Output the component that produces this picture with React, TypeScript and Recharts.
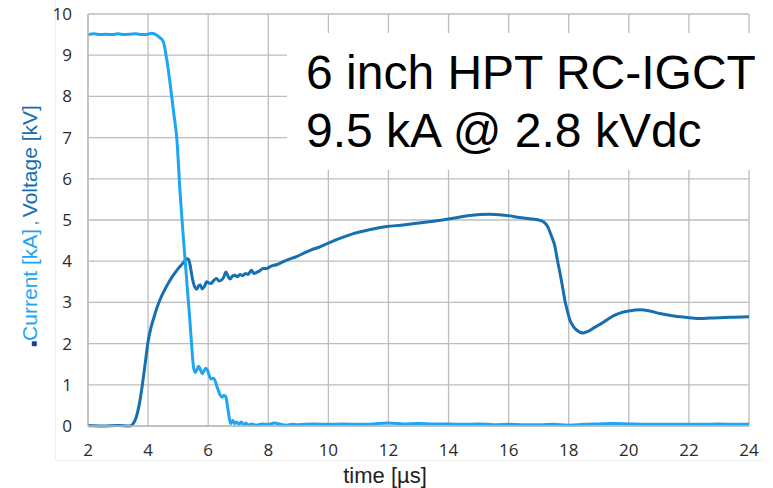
import { CartesianGrid, Line, LineChart, XAxis, YAxis } from 'recharts'

// current trace [kA]
const currentTime = [
  2.0, 2.2, 2.4, 2.6, 2.8, 3.0, 3.2, 3.4, 3.6, 3.8, 4.0, 4.1, 4.2, 4.3, 4.4, 4.5, 4.62, 4.73, 4.84, 4.96,
  5.06, 5.15, 5.23, 5.31, 5.39, 5.45, 5.51, 5.56, 5.62, 5.68, 5.74, 5.8, 5.86, 5.92, 5.98, 6.04, 6.1, 6.16,
  6.22, 6.28, 6.34, 6.4, 6.46, 6.52, 6.58, 6.64, 6.7, 6.75, 6.82, 6.88, 6.95, 7.02, 7.1, 7.18, 7.26, 7.34,
  7.45, 7.6, 7.8, 8.0, 8.2, 8.4, 8.6, 8.8, 9.0, 9.5, 10.0, 10.5, 11.0, 11.5, 12.0, 12.5, 13.0, 13.5, 14.0,
  14.5, 15.0, 15.5, 16.0, 16.5, 17.0, 17.5, 18.0, 18.5, 19.0, 19.5, 20.0, 20.5, 21.0, 21.5, 22.0, 22.5, 23.0,
  23.5, 24.0,
]
const currentKA = [
  9.5, 9.52, 9.5, 9.51, 9.5, 9.52, 9.5, 9.51, 9.52, 9.5, 9.51, 9.53, 9.52, 9.48, 9.42, 9.34, 8.9, 8.33, 7.67, 6.94,
  5.72, 4.8, 4.05, 3.3, 2.57, 1.95, 1.44, 1.3, 1.36, 1.45, 1.37, 1.27, 1.33, 1.4, 1.35, 1.21, 1.14, 1.16,
  1.12, 0.98, 0.86, 0.75, 0.7, 0.74, 0.72, 0.5, 0.2, 0.06, 0.14, 0.06, 0.1, 0.04, 0.1, 0.03, 0.07, 0.02,
  0.05, 0.02, 0.05, 0.04, 0.07, 0.04, 0.02, 0.04, 0.03, 0.05, 0.04, 0.05, 0.04, 0.05, 0.07, 0.05, 0.06, 0.05, 0.05,
  0.04, 0.05, 0.03, 0.04, 0.03, 0.03, 0.04, 0.02, 0.04, 0.05, 0.06, 0.05, 0.04, 0.04, 0.04, 0.04, 0.04, 0.05,
  0.04, 0.04,
]

// voltage trace [kV]
const voltageTime = [
  2.0, 2.5, 3.0, 3.4, 3.5, 3.6, 3.7, 3.8, 3.9, 4.0, 4.1, 4.2, 4.3, 4.4, 4.5, 4.6, 4.7, 4.8, 4.9, 5.0, 5.1, 5.2,
  5.28, 5.34, 5.4, 5.47, 5.55, 5.62, 5.68, 5.74, 5.8, 5.87, 5.95, 6.02, 6.1, 6.18, 6.28, 6.36, 6.45, 6.52, 6.59,
  6.66, 6.73, 6.81, 6.89, 6.97, 7.06, 7.15, 7.24, 7.33, 7.44, 7.52, 7.6, 7.7, 7.83, 7.95, 8.06, 8.3, 8.5, 8.7,
  8.94, 9.2, 9.45, 9.72, 10.0, 10.4, 10.83, 11.4, 11.94, 12.5, 12.93, 13.5, 14.05, 14.7, 15.37, 15.7, 16.04,
  16.36, 16.7, 17.0, 17.15, 17.3, 17.42, 17.54, 17.63, 17.71, 17.8, 17.87, 17.96, 18.04, 18.15, 18.26, 18.48,
  18.65, 18.81, 19.0, 19.26, 19.5, 19.7, 20.0, 20.37, 20.7, 21.03, 21.4, 21.7, 22.0, 22.37, 22.7, 23.03, 23.5, 24.0,
]
const voltageKV = [
  0.01, 0.0, 0.01, 0.0, 0.05, 0.2, 0.5, 0.95, 1.5, 2.05, 2.4, 2.65, 2.88, 3.07, 3.23, 3.37, 3.5, 3.62, 3.72, 3.82, 3.9, 3.99,
  4.06, 4.05, 3.9, 3.6, 3.38, 3.32, 3.4, 3.42, 3.33, 3.38, 3.5, 3.47, 3.46, 3.53, 3.58, 3.52, 3.55, 3.62, 3.74,
  3.64, 3.57, 3.64, 3.66, 3.62, 3.68, 3.65, 3.7, 3.68, 3.78, 3.7, 3.72, 3.76, 3.82, 3.82, 3.87, 3.92, 3.99, 4.05,
  4.11, 4.2, 4.28, 4.35, 4.44, 4.56, 4.67, 4.77, 4.84, 4.88, 4.92, 4.97, 5.03, 5.11, 5.14, 5.13, 5.1,
  5.06, 5.03, 5.0, 4.96, 4.84, 4.62, 4.36, 4.0, 3.71, 3.35, 3.06, 2.78, 2.57, 2.42, 2.33, 2.26,
  2.3, 2.37, 2.45, 2.57, 2.68, 2.74, 2.79, 2.82, 2.79, 2.73, 2.68, 2.65, 2.63, 2.61, 2.62, 2.63, 2.64, 2.65,
]

const xTicks = [2, 4, 6, 8, 10, 12, 14, 16, 18, 20, 22, 24]
const yTicks = [0, 1, 2, 3, 4, 5, 6, 7, 8, 9, 10]

const currentData = currentTime.map((t, i) => ({ t, v: currentKA[i] }))
const voltageData = voltageTime.map((t, i) => ({ t, v: voltageKV[i] }))

const FONT = '"Liberation Sans", Arial, sans-serif'
const GRID = '#bdbdbd'
const LIGHT = '#1ea6f2'
const DARK = '#1670b0'

const tickStyle = { fontSize: 17, fill: '#2b2b2b', fontFamily: '"Open Sans", "Liberation Sans", sans-serif' }

const App = () => {
  return (
    <div style={{ position: 'absolute', left: 0, top: 0, width: 773, height: 488, background: '#fff', fontFamily: FONT }}>
      <div
        style={{
          position: 'absolute',
          left: 55,
          top: 0,
          width: 707,
          height: 460,
          borderLeft: '1px solid #efefef',
          borderBottom: '1px solid #efefef',
        }}
      />
      <LineChart width={773} height={488} margin={{ top: 14, right: 24, left: 28, bottom: 32 }}>
        <CartesianGrid stroke={GRID} strokeWidth={1.3} />
        <XAxis
          type="number"
          dataKey="t"
          domain={[2, 24]}
          ticks={xTicks}
          allowDuplicatedCategory={false}
          height={30}
          tick={tickStyle}
          tickLine={false}
          tickMargin={12}
          axisLine={{ stroke: GRID, strokeWidth: 1.3 }}
        />
        <YAxis
          type="number"
          domain={[0, 10]}
          ticks={yTicks}
          width={60}
          tick={tickStyle}
          tickLine={false}
          tickMargin={10}
          axisLine={{ stroke: GRID, strokeWidth: 1.3 }}
        />
        <Line
          data={voltageData}
          dataKey="v"
          type="monotone"
          stroke={DARK}
          strokeWidth={3}
          dot={false}
          isAnimationActive={false}
        />
        <Line
          data={currentData}
          dataKey="v"
          type="monotone"
          stroke={LIGHT}
          strokeWidth={3}
          dot={false}
          isAnimationActive={false}
        />
      </LineChart>

      <div
        style={{
          position: 'absolute',
          left: 287,
          top: 33,
          width: 478,
          height: 137,
          background: '#fff',
          color: '#000',
          fontSize: 48,
          lineHeight: '58px',
          paddingLeft: 19,
          paddingTop: 11,
          boxSizing: 'border-box',
          whiteSpace: 'nowrap',
        }}
      >
        <div>6 inch HPT RC-IGCT</div>
        <div>9.5 kA @ 2.8 kVdc</div>
      </div>

      <div
        style={{
          position: 'absolute',
          left: 30,
          top: 226,
          transform: 'translate(-50%, -50%) rotate(-90deg)',
          whiteSpace: 'nowrap',
          fontSize: 21,
        }}
      >
        <span style={{ color: '#1a3b8f', fontSize: 10 }}>■</span>
        <span style={{ color: LIGHT }}>Current [kA]</span>
        <span style={{ color: '#333', fontSize: 14 }}> , </span>
        <span style={{ color: DARK }}>Voltage [kV]</span>
      </div>

      <div
        style={{
          position: 'absolute',
          left: 385,
          top: 463,
          transform: 'translateX(-50%)',
          fontSize: 22,
          color: '#222',
          whiteSpace: 'nowrap',
        }}
      >
        time [µs]
      </div>
    </div>
  )
}

export default App
